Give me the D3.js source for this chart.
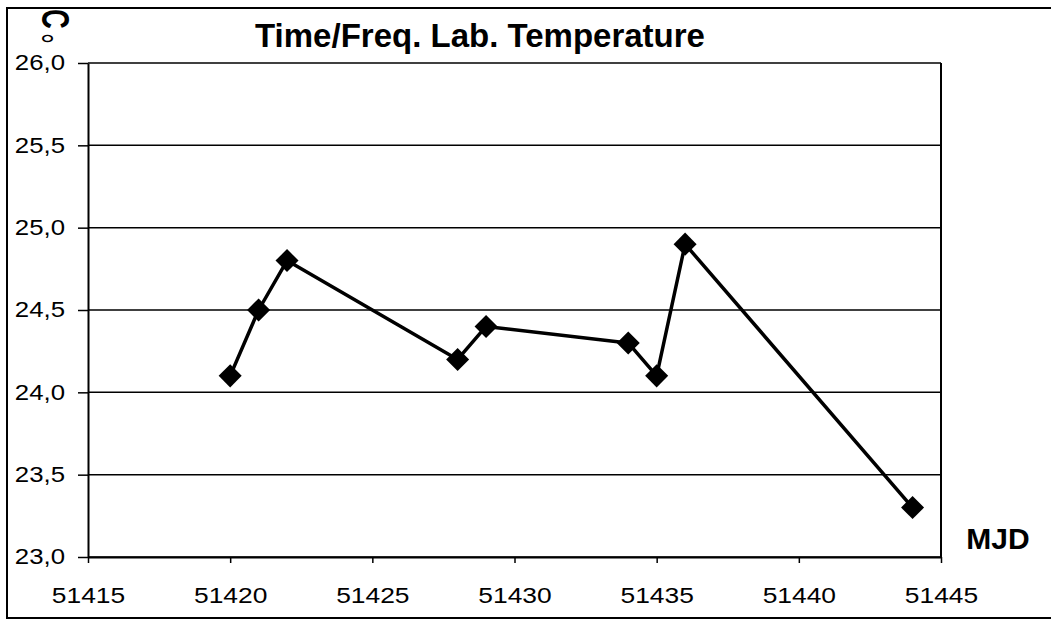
<!DOCTYPE html>
<html>
<head>
<meta charset="utf-8">
<script src="https://cdn.jsdelivr.net/npm/d3@7"></script>
<style>
  body { margin: 0; background: #fff; }
  svg { display: block; }
  text { font-family: Arial, "Liberation Sans", Helvetica, sans-serif; fill: #000; }
</style>
</head>
<body>
<svg id="chart" width="1051" height="624"></svg>
<script>
// data
const mjd = [51420, 51421, 51422, 51428, 51429, 51434, 51435, 51436, 51444];
const temp = [24.1, 24.5, 24.8, 24.2, 24.4, 24.3, 24.1, 24.9, 23.3];
const xTicks = [51415, 51420, 51425, 51430, 51435, 51440, 51445];
const yTicks = [23.0, 23.5, 24.0, 24.5, 25.0, 25.5, 26.0];

const points = mjd.map((m, i) => ({ x: m, y: temp[i] }));

const svg = d3.select('#chart');
const plotLeft = 88, plotRight = 941, plotTop = 63, plotBottom = 557;

// outer frame (right side runs off the picture)
svg.append('rect')
	.attr('x', 7).attr('y', 8)
	.attr('width', 1060).attr('height', 610)
	.attr('fill', 'none')
	.attr('stroke', '#000')
	.attr('stroke-width', 2);

const x = d3.scaleLinear().domain([51415, 51445]).range([plotLeft, plotRight]);
const y = d3.scaleLinear().domain([23, 26]).range([plotBottom, plotTop]);

const fmt = d => d3.format('.1f')(d).replace('.', ',');

// gridlines
svg.append('g')
	.selectAll('line')
	.data(yTicks)
	.enter()
	.append('line')
	.attr('x1', plotLeft).attr('x2', plotRight)
	.attr('y1', d => y(d)).attr('y2', d => y(d))
	.attr('stroke', '#000')
	.attr('stroke-width', 1.5);

// right edge of plot
svg.append('line')
	.attr('x1', plotRight).attr('x2', plotRight)
	.attr('y1', plotTop).attr('y2', plotBottom)
	.attr('stroke', '#000')
	.attr('stroke-width', 2);

// y axis
const yAxis = svg.append('g')
	.attr('transform', `translate(${plotLeft},0)`)
	.call(d3.axisLeft(y).tickValues(yTicks).tickFormat(fmt).tickSizeOuter(0).tickSizeInner(10));
yAxis.select('.domain').attr('stroke-width', 2);
yAxis.selectAll('.tick line').attr('stroke-width', 1.5);
yAxis.selectAll('.tick text')
	.attr('font-size', 21.5)
	.attr('font-family', 'Arial, "Liberation Sans", sans-serif')
	.attr('x', -23 / 1.2)
	.attr('transform', 'scale(1.2,1)');

// x axis
const xAxis = svg.append('g')
	.attr('transform', `translate(0,${plotBottom})`)
	.call(d3.axisBottom(x).tickValues(xTicks).tickFormat(d3.format('d')).tickSizeOuter(0).tickSizeInner(6));
xAxis.select('.domain').attr('stroke-width', 2);
xAxis.selectAll('.tick line').attr('stroke-width', 1.5);
xAxis.selectAll('.tick text')
	.attr('font-size', 22)
	.attr('font-family', 'Arial, "Liberation Sans", sans-serif')
	.attr('y', 46)
	.attr('dy', null)
	.attr('transform', 'scale(1.2,1)');

// series line
const line = d3.line().x(d => x(d.x)).y(d => y(d.y));
svg.append('path')
	.datum(points)
	.attr('d', line)
	.attr('fill', 'none')
	.attr('stroke', '#000')
	.attr('stroke-width', 3.5)
	.attr('stroke-linejoin', 'round');

// diamond markers
const marker = d3.symbol().type(d3.symbolSquare).size(265);
svg.append('g')
	.selectAll('path')
	.data(points)
	.enter()
	.append('path')
	.attr('d', marker)
	.attr('transform', d => `translate(${x(d.x)},${y(d.y)}) rotate(45)`)
	.attr('fill', '#000');

// title and axis names
svg.append('text')
	.attr('x', 480).attr('y', 47)
	.attr('text-anchor', 'middle')
	.attr('font-size', 33)
	.attr('font-weight', 'bold')
	.text('Time/Freq. Lab. Temperature');

svg.append('text')
	.attr('x', 998).attr('y', 549)
	.attr('text-anchor', 'middle')
	.attr('font-size', 30)
	.attr('font-weight', 'bold')
	.text('MJD');

// °C unit, drawn sideways like the original (C on top, ring below)
const unit = svg.append('text')
	.attr('transform', 'translate(42,9) rotate(90) scale(0.72,1)')
	.attr('font-size', 38)
	.attr('font-weight', 'bold');
unit.append('tspan').text('C');
unit.append('tspan')
	.attr('dx', 6)
	.attr('dy', 16)
	.attr('font-weight', 'normal')
	.text('°');
</script>
</body>
</html>
